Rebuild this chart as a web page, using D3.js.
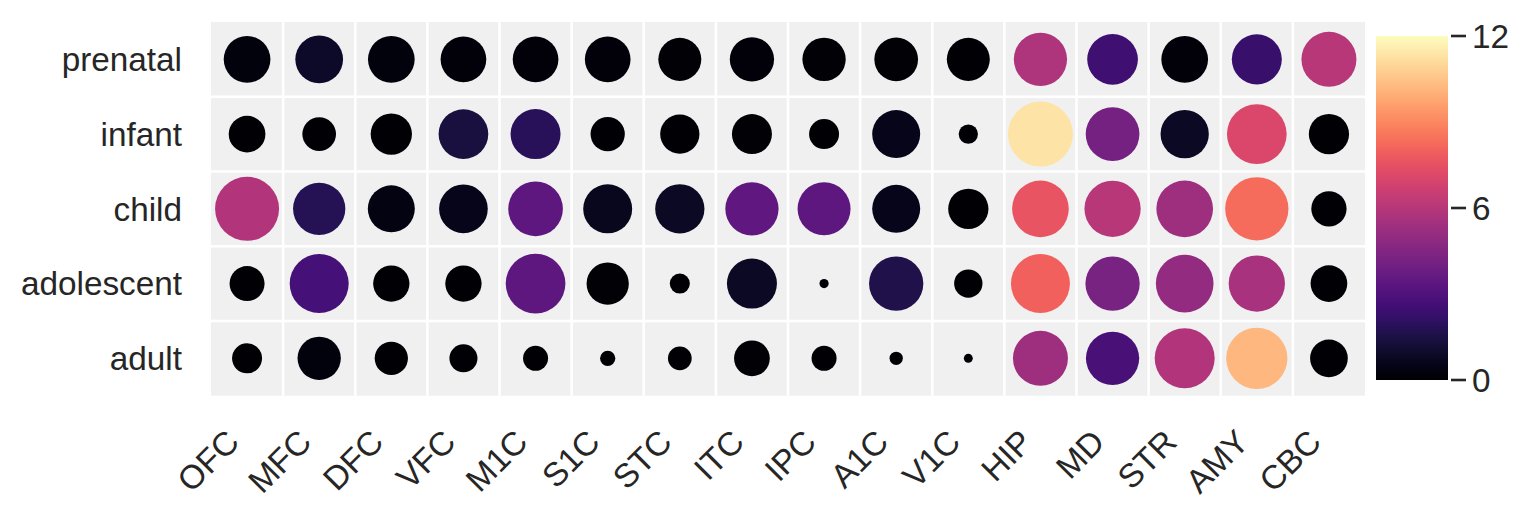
<!DOCTYPE html>
<html>
<head>
<meta charset="utf-8">
<script src="https://cdn.jsdelivr.net/npm/d3@7"></script>
<style>
  html, body { margin: 0; padding: 0; background: #fff; }
  svg { display: block; }
  text { font-family: "Liberation Sans", Arial, sans-serif; fill: #262626; }
</style>
</head>
<body>
<svg id="chart" width="1533" height="517"></svg>
<script>
// ---- data ----
const regions = ["OFC","MFC","DFC","VFC","M1C","S1C","STC","ITC","IPC","A1C","V1C","HIP","MD","STR","AMY","CBC"];
const stages = ["prenatal","infant","child","adolescent","adult"];

// colour value (0-12) per stage x region
const colorPrenatal   = [0.3, 0.9, 0.3, 0.2, 0.2, 0.2, 0.1, 0.2, 0.1, 0.1, 0.05, 5.8, 2.5, 0.2, 2.3, 6.0];
const colorInfant     = [0.05, 0.05, 0.05, 1.4, 1.9, 0.05, 0.05, 0.1, 0.05, 0.6, 0.05, 11.3, 4.1, 0.8, 7.1, 0.05];
const colorChild      = [5.9, 1.8, 0.4, 0.6, 3.4, 0.7, 0.8, 3.5, 3.4, 0.6, 0.05, 7.6, 6.0, 5.3, 8.3, 0.05];
const colorAdolescent = [0.05, 2.7, 0.05, 0.05, 3.4, 0.1, 0.05, 0.8, 0.0, 1.6, 0.05, 8.0, 4.2, 5.0, 5.6, 0.05];
const colorAdult      = [0.05, 0.3, 0.05, 0.05, 0.05, 0.05, 0.05, 0.1, 0.05, 0.0, 0.0, 5.3, 2.8, 5.9, 10.2, 0.05];

// size value (0-100) per stage x region
const sizePrenatal   = [51.6, 53.9, 51.6, 49.4, 49.4, 49.4, 43.8, 46.4, 44.4, 45.2, 43.8, 67.2, 60.8, 51.6, 59.2, 71.6];
const sizeInfant     = [31.9, 26.9, 40.4, 58.5, 59.2, 27.8, 36.5, 37.9, 21.3, 54.5, 8.8, 100, 68.3, 55.2, 84.4, 38.4];
const sizeChild      = [96.9, 64.7, 52.3, 56.1, 70.8, 56.8, 57.5, 67.2, 66.5, 54.5, 38.4, 76.1, 75.0, 76.1, 94.8, 29.5];
const sizeAdolescent = [29.0, 82.4, 31.2, 31.2, 84.4, 42.3, 9.5, 59.2, 2.0, 69.8, 19.0, 82.4, 69.8, 78.8, 75.0, 31.9];
const sizeAdult      = [21.3, 44.4, 26.2, 18.6, 14.8, 5.5, 13.3, 30.2, 14.8, 4.2, 1.9, 71.6, 67.2, 85.2, 88.9, 33.6];

const colorTicks = [0, 6, 12];

const colorRows = [colorPrenatal, colorInfant, colorChild, colorAdolescent, colorAdult];
const sizeRows  = [sizePrenatal, sizeInfant, sizeChild, sizeAdolescent, sizeAdult];

const cells = [];
stages.forEach((s, i) => {
  regions.forEach((r, j) => {
    cells.push({stage: s, region: r, color: colorRows[i][j], size: sizeRows[i][j]});
  });
});

// ---- layout ----
const svg = d3.select("#chart");
const plot = {left: 211, right: 1365, top: 22, bottom: 395.7};
const FONT = 33.3;

const x = d3.scaleBand().domain(regions).range([plot.left, plot.right]);
const y = d3.scaleBand().domain(stages).range([plot.top, plot.bottom]);
const color = d3.scaleSequential(d3.interpolateMagma).domain([0, 12]);
const r = d3.scaleSqrt().domain([0, 100]).range([0, 32.5]);

// background
svg.append("rect")
  .attr("x", plot.left).attr("y", plot.top)
  .attr("width", plot.right - plot.left).attr("height", plot.bottom - plot.top)
  .attr("fill", "#f0f0f0");

// white grid between cells
svg.append("g").selectAll("line.v").data(regions.slice(1)).join("line")
  .attr("x1", d => x(d)).attr("x2", d => x(d))
  .attr("y1", plot.top).attr("y2", plot.bottom)
  .attr("stroke", "#fff").attr("stroke-width", 2.6);
svg.append("g").selectAll("line.h").data(stages.slice(1)).join("line")
  .attr("y1", d => y(d)).attr("y2", d => y(d))
  .attr("x1", plot.left).attr("x2", plot.right)
  .attr("stroke", "#fff").attr("stroke-width", 2.6);

// circles
svg.append("g").selectAll("circle").data(cells).join("circle")
  .attr("cx", d => x(d.region) + x.bandwidth() / 2)
  .attr("cy", d => y(d.stage) + y.bandwidth() / 2)
  .attr("r", d => r(d.size))
  .attr("fill", d => color(d.color));

// y labels
svg.append("g").selectAll("text").data(stages).join("text")
  .attr("x", 182)
  .attr("y", d => y(d) + y.bandwidth() / 2)
  .attr("dy", "0.35em")
  .attr("text-anchor", "end")
  .style("font-size", FONT + "px")
  .text(d => d);

// x labels (rotated 45°)
svg.append("g").selectAll("text").data(regions).join("text")
  .attr("transform", d => `translate(${x(d) + x.bandwidth() / 2 - 6},444) rotate(-45)`)
  .attr("text-anchor", "end")
  .style("font-size", FONT + "px")
  .text(d => d);

// colorbar
const cb = {x: 1376, w: 72, top: 36, bottom: 380};
const defs = svg.append("defs");
const grad = defs.append("linearGradient").attr("id", "magma")
  .attr("x1", "0").attr("y1", "1").attr("x2", "0").attr("y2", "0");
d3.range(0, 1.0001, 0.02).forEach(t => {
  grad.append("stop").attr("offset", t).attr("stop-color", d3.interpolateMagma(t));
});
svg.append("rect")
  .attr("x", cb.x).attr("y", cb.top)
  .attr("width", cb.w).attr("height", cb.bottom - cb.top)
  .attr("fill", "url(#magma)");

const cy = d3.scaleLinear().domain([0, 12]).range([cb.bottom, cb.top]);
const cbAxis = svg.append("g");
cbAxis.selectAll("line").data(colorTicks).join("line")
  .attr("x1", cb.x + cb.w + 3).attr("x2", cb.x + cb.w + 18)
  .attr("y1", d => cy(d)).attr("y2", d => cy(d))
  .attr("stroke", "#262626").attr("stroke-width", 2.6);
cbAxis.selectAll("text").data(colorTicks).join("text")
  .attr("x", 1472)
  .attr("y", d => cy(d))
  .attr("dy", "0.35em")
  .style("font-size", FONT + "px")
  .text(d => d);
</script>
</body>
</html>
